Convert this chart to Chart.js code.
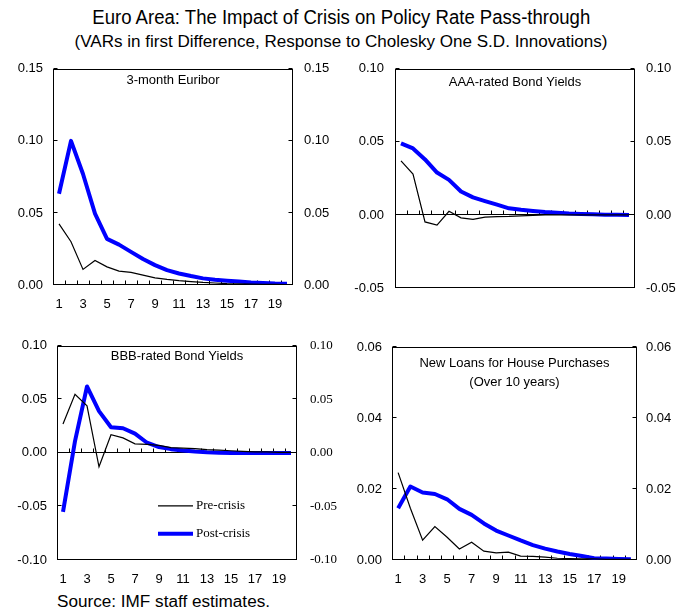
<!DOCTYPE html>
<html>
<head>
<meta charset="utf-8">
<script src="https://cdn.jsdelivr.net/npm/chart.js@4.4.1/dist/chart.umd.min.js"></script>
<style>
  html, body { margin: 0; padding: 0; background: #fff; }
  #page { position: relative; width: 683px; height: 615px; overflow: hidden;
          font-family: "Liberation Sans", Arial, sans-serif; color: #000; }
  .line { position: absolute; white-space: nowrap; line-height: 1; }
  .line span { display: inline-block; }
  .center { left: 0; width: 683px; text-align: center; }
  .center span { transform-origin: 50% 50%; }
  .left span { transform-origin: 0 50%; }
  canvas { position: absolute; }
</style>
</head>
<body>
<div id="page">
  <div id="title" class="line center" style="top:7px;font-size:20px;"><span>Euro Area: The Impact of Crisis on Policy Rate Pass-through</span></div>
  <div id="subtitle" class="line center" style="top:34px;font-size:16px;"><span>(VARs in first Difference, Response to Cholesky One S.D. Innovations)</span></div>
  <div id="source" class="line left" style="left:57px;top:594px;font-size:16px;"><span>Source: IMF staff estimates.</span></div>
  <canvas id="euribor"></canvas>
  <canvas id="aaa"></canvas>
  <canvas id="bbb"></canvas>
  <canvas id="loans"></canvas>
</div>
<script>
// Impulse-response horizon (periods after the shock)
const categories = ['1','2','3','4','5','6','7','8','9','10','11','12','13','14','15','16','17','18','19','20'];
const seriesNames = ['Pre-crisis', 'Post-crisis'];

// 3-month Euribor
const euriborPre  = [0.0424, 0.0300, 0.0108, 0.0170, 0.0126, 0.0096, 0.0087, 0.0069, 0.0050, 0.0039, 0.0030, 0.0024, 0.0018, 0.0014, 0.0010, 0.0008, 0.0006, 0.0005, 0.0004, 0.0003];
const euriborPost = [0.0633, 0.1000, 0.0770, 0.0495, 0.0320, 0.0280, 0.0230, 0.0180, 0.0138, 0.0103, 0.0080, 0.0062, 0.0046, 0.0037, 0.0030, 0.0024, 0.0018, 0.0014, 0.0010, 0.0008];
const euriborTicks = [0, 0.05, 0.10, 0.15];

// AAA-rated bond yields
const aaaPre  = [0.0370, 0.0280, -0.0048, -0.0070, 0.0025, -0.0020, -0.0030, -0.0015, -0.0012, -0.0010, -0.0006, -0.0003, 0, 0, 0, 0, 0, 0, 0, 0];
const aaaPost = [0.0490, 0.0455, 0.0380, 0.0290, 0.0240, 0.0160, 0.0120, 0.0095, 0.0070, 0.0045, 0.0035, 0.0027, 0.0020, 0.0015, 0.0010, 0.0007, 0.0004, 0.0002, 0.0001, 0];
const aaaTicks = [-0.05, 0, 0.05, 0.10];

// BBB-rated bond yields
const bbbPre  = [0.0270, 0.0547, 0.0440, -0.0130, 0.0170, 0.0140, 0.0085, 0.0080, 0.0070, 0.0050, 0.0045, 0.0040, 0.0030, 0.0025, 0.0020, 0.0015, 0.0010, 0.0010, 0.0005, 0.0005];
const bbbPost = [-0.0550, 0.0110, 0.0620, 0.0390, 0.0240, 0.0230, 0.0180, 0.0095, 0.0055, 0.0035, 0.0022, 0.0012, 0.0005, 0.0002, 0, 0, 0, 0, 0, 0];
const bbbTicks = [-0.10, -0.05, 0, 0.05, 0.10];

// New loans for house purchases (over 10 years)
const loansPre  = [0.0246, 0.0146, 0.0056, 0.0094, 0.0064, 0.0031, 0.0050, 0.0025, 0.0020, 0.0022, 0.0011, 0.0010, 0.0008, 0.0005, 0.0004, 0.0003, 0.0003, 0.0002, 0.0002, 0.0002];
const loansPost = [0.0146, 0.0207, 0.0190, 0.0186, 0.0171, 0.0144, 0.0127, 0.0103, 0.0083, 0.0069, 0.0055, 0.0042, 0.0032, 0.0024, 0.0017, 0.0011, 0.0005, 0.0004, 0.0003, 0.0002];
const loansTicks = [0, 0.02, 0.04, 0.06];

const SANS = '"Liberation Sans", Arial, sans-serif';
const SERIF = '"Liberation Serif", "Times New Roman", serif';

// Squeeze the headline texts to the narrow face widths
function fitText(id, width) {
  const span = document.querySelector('#' + id + ' span');
  const w = span.getBoundingClientRect().width;
  span.style.transform = 'scaleX(' + (width / w) + ')';
}
fitText('title', 498);
fitText('subtitle', 533);
fitText('source', 213);

// Frame, zero line, inward tick marks, panel caption and legend
const panelDecor = {
  id: 'panelDecor',
  beforeDatasetsDraw(chart, args, o) {
    const { ctx, chartArea: a } = chart;
    const x = chart.scales.x, y = chart.scales.y;
    const L = Math.round(a.left) + 0.5, R = Math.round(a.right) - 0.5;
    const T = Math.round(a.top) + 0.5, B = Math.round(a.bottom) - 0.5;
    ctx.save();
    ctx.strokeStyle = '#000';
    ctx.lineWidth = 1;
    ctx.strokeRect(L, T, R - L, B - T);
    const zy = Math.round(y.getPixelForValue(0)) - 0.5;
    ctx.beginPath();
    ctx.moveTo(L, zy); ctx.lineTo(R, zy);
    // x tick marks on the zero line, between categories, pointing up
    const n = chart.data.labels.length;
    for (let i = 1; i < n; i++) {
      const px = Math.round((x.getPixelForValue(i - 1) + x.getPixelForValue(i)) / 2) + 0.5;
      ctx.moveTo(px, zy); ctx.lineTo(px, zy - 4);
    }
    // y tick marks on both side axes, pointing inward
    y.ticks.forEach(t => {
      const py = Math.round(y.getPixelForValue(t.value)) - 0.5;
      ctx.moveTo(L, py); ctx.lineTo(L + 4, py);
      ctx.moveTo(R, py); ctx.lineTo(R - 4, py);
    });
    ctx.stroke();
    ctx.restore();
  },
  afterDatasetsDraw(chart, args, o) {
    const { ctx, chartArea: a } = chart;
    ctx.save();
    ctx.fillStyle = '#000';
    ctx.font = '13px ' + SANS;
    ctx.textAlign = 'center';
    ctx.textBaseline = 'middle';
    const cx = (a.left + a.right) / 2;
    o.caption.forEach((line, i) => ctx.fillText(line, cx, a.top + o.captionY[i]));
    if (o.legend) {
      const lg = o.legend;
      chart.data.datasets.forEach((ds, i) => {
        const yy = a.top + lg.y[i];
        ctx.beginPath();
        ctx.strokeStyle = ds.borderColor;
        ctx.lineWidth = ds.borderWidth;
        ctx.moveTo(a.left + lg.x0, yy);
        ctx.lineTo(a.left + lg.x1, yy);
        ctx.stroke();
        ctx.font = '13px ' + SERIF;
        ctx.textAlign = 'left';
        ctx.fillText(ds.label, a.left + lg.tx, yy);
      });
    }
    ctx.restore();
  }
};

function makePanel(p) {
  const cv = document.getElementById(p.id);
  cv.width = p.w; cv.height = p.h;
  cv.style.left = p.x + 'px'; cv.style.top = p.y + 'px';
  cv.style.width = p.w + 'px'; cv.style.height = p.h + 'px';

  const yAxis = (position, width, pad, family) => ({
    type: 'linear', position,
    min: p.ticks[0], max: p.ticks[p.ticks.length - 1],
    afterFit(s) { s.width = width; },
    afterBuildTicks(s) { s.ticks = p.ticks.map(v => ({ value: v })); },
    grid: { display: false, drawTicks: false },
    border: { display: false },
    ticks: { padding: pad, color: '#000', font: { family, size: 13 },
             callback: v => v.toFixed(2) }
  });

  return new Chart(cv, {
    type: 'line',
    data: {
      labels: categories,
      datasets: [
        { label: seriesNames[0], data: p.pre, borderColor: '#000000', borderWidth: 1.2,
          pointRadius: 0, tension: 0, fill: false, yAxisID: 'y' },
        { label: seriesNames[1], data: p.post, borderColor: '#0000ff', borderWidth: 4,
          borderJoinStyle: 'round', borderCapStyle: 'butt',
          pointRadius: 0, tension: 0, fill: false, yAxisID: 'y' }
      ]
    },
    options: {
      responsive: false, animation: false, devicePixelRatio: 1,
      events: [],
      layout: { padding: { left: 0, right: 0, top: p.padTop, bottom: 0 } },
      scales: {
        x: {
          type: 'category', offset: true,
          afterFit(s) { s.height = p.xh; },
          grid: { display: false, drawTicks: false },
          border: { display: false },
          ticks: { display: p.showX, autoSkip: false, maxRotation: 0, padding: 12,
                   color: '#000', font: { family: SANS, size: 13 },
                   callback(v, i) { return i % 2 === 0 ? this.getLabelForValue(v) : ''; } }
        },
        y: yAxis('left', p.lw, p.lpad, SANS),
        yR: yAxis('right', p.rw, p.rpad, p.rightFamily || SANS)
      },
      plugins: {
        legend: { display: false },
        tooltip: { enabled: false },
        panelDecor: { caption: p.caption, captionY: p.captionY, legend: p.legend || null }
      }
    },
    plugins: [panelDecor]
  });
}

makePanel({ id: 'euribor', x: 0, y: 50, w: 340, h: 270, lw: 53, rw: 47, padTop: 17, xh: 35,
  lpad: 10, rpad: 11, showX: true, ticks: euriborTicks, pre: euriborPre, post: euriborPost,
  caption: ['3-month Euribor'], captionY: [12] });

makePanel({ id: 'aaa', x: 340, y: 50, w: 343, h: 270, lw: 55, rw: 48, padTop: 17, xh: 32,
  lpad: 11, rpad: 11, showX: false, ticks: aaaTicks, pre: aaaPre, post: aaaPost,
  caption: ['AAA-rated Bond Yields'], captionY: [14] });

makePanel({ id: 'bbb', x: 0, y: 325, w: 340, h: 270, lw: 57, rw: 43, padTop: 20, xh: 35,
  lpad: 10, rpad: 13, showX: true, ticks: bbbTicks, pre: bbbPre, post: bbbPost,
  rightFamily: SERIF,
  caption: ['BBB-rated Bond Yields'], captionY: [11],
  legend: { x0: 101, x1: 136, tx: 139, y: [160, 188] } });

makePanel({ id: 'loans', x: 340, y: 325, w: 343, h: 270, lw: 52, rw: 46, padTop: 22, xh: 35,
  lpad: 10, rpad: 9, showX: true, ticks: loansTicks, pre: loansPre, post: loansPost,
  caption: ['New Loans for House Purchases', '(Over 10 years)'], captionY: [16, 35] });
</script>
</body>
</html>
